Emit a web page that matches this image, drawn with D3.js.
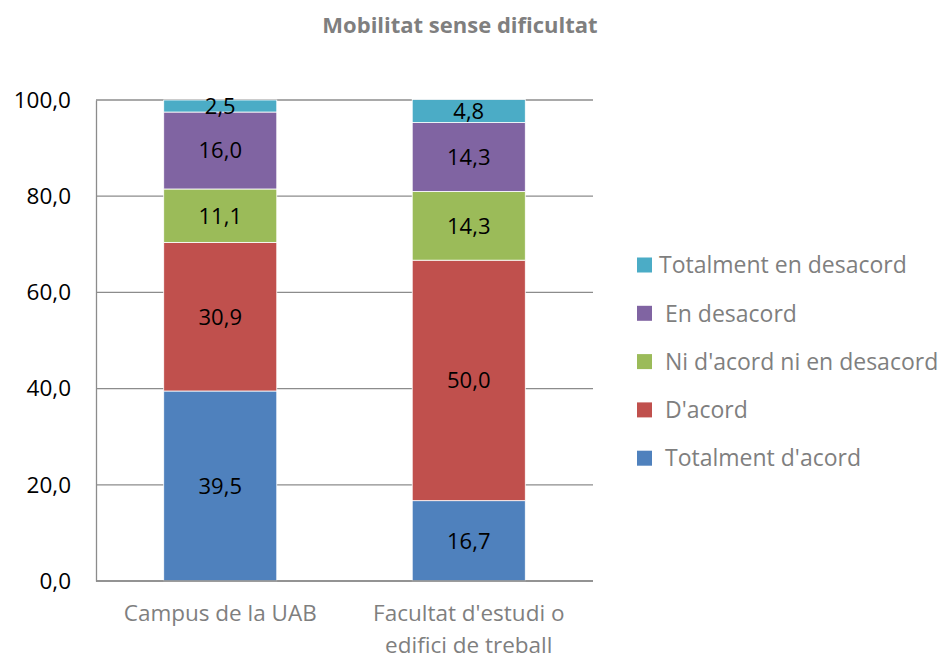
<!DOCTYPE html>
<html>
<head>
<meta charset="utf-8">
<script src="https://cdn.jsdelivr.net/npm/d3@7"></script>
<style>
  body { margin: 0; background: #fff; }
  svg text { font-family: "Open Sans", sans-serif; }
</style>
</head>
<body>
<svg id="chart" width="940" height="659"></svg>
<script>
// categories on x, stacked series bottom to top
const categories = ['Campus de la UAB', "Facultat d'estudi o edifici de treball"]
const categoryLines = [['Campus de la UAB'], ["Facultat d'estudi o", 'edifici de treball']]
const seriesNames = ["Totalment d'acord", "D'acord", "Ni d'acord ni en desacord", 'En desacord', 'Totalment en desacord']
const seriesColors = ['#4f81bd', '#c0504d', '#9bbb59', '#8064a2', '#4bacc6']
const totalmentAcord = [39.5, 16.7]
const acord = [30.9, 50.0]
const niNi = [11.1, 14.3]
const desacord = [16.0, 14.3]
const totalmentDesacord = [2.5, 4.8]
const yTicks = [0, 20, 40, 60, 80, 100]

const seriesValues = [totalmentAcord, acord, niNi, desacord, totalmentDesacord]
const rows = categories.map((c, i) => {
  let r = {cat: c}
  seriesNames.forEach((s, j) => { r[s] = seriesValues[j][i] })
  return r
})
const stacked = d3.stack().keys(seriesNames)(rows)

let svg = d3.select('#chart')
let plot = {x0: 96, x1: 593, y0: 100, y1: 581}
let fmt = v => d3.format('.1f')(v).replace('.', ',')

let x = d3.scaleBand().domain(categories).range([plot.x0, plot.x1]).paddingInner(0.545).paddingOuter(0.2725)
let y = d3.scaleLinear().domain([0, 100]).range([plot.y1, plot.y0])

// gridlines
svg.append('g')
  .selectAll('line')
  .data(yTicks)
  .enter().append('line')
  .attr('x1', plot.x0)
  .attr('x2', plot.x1)
  .attr('y1', d => y(d))
  .attr('y2', d => y(d))
  .attr('stroke', '#8c8c8c')
  .attr('stroke-width', 1.3)

// y axis
let yAxis = svg.append('g')
  .attr('transform', 'translate(' + plot.x0 + ',0)')
  .call(d3.axisLeft(y).tickValues(yTicks).tickFormat(fmt).tickSize(0).tickPadding(25))
yAxis.select('.domain').attr('stroke', '#8c8c8c').attr('stroke-width', 1.3)
yAxis.selectAll('text')
  .style('font-size', '22.5px')
  .attr('fill', '#000')

// bars
let layer = svg.append('g')
  .selectAll('g')
  .data(stacked)
  .enter().append('g')
  .attr('fill', (d, i) => seriesColors[i])

layer.selectAll('rect')
  .data(d => d)
  .enter().append('rect')
  .attr('x', d => x(d.data.cat))
  .attr('y', d => y(d[1]))
  .attr('width', x.bandwidth())
  .attr('height', d => y(d[0]) - y(d[1]))
  .attr('stroke', '#fff')
  .attr('stroke-width', 0.8)

layer.selectAll('text')
  .data(d => d.map(p => ({p: p, key: d.key})))
  .enter().append('text')
  .attr('x', d => x(d.p.data.cat) + x.bandwidth() / 2)
  .attr('y', d => (y(d.p[0]) + y(d.p[1])) / 2)
  .attr('dy', '0.36em')
  .attr('text-anchor', 'middle')
  .style('font-size', '22px')
  .attr('fill', '#000')
  .text(d => fmt(d.p.data[d.key]))

// bottom axis line
svg.append('line')
  .attr('x1', plot.x0)
  .attr('x2', plot.x1)
  .attr('y1', plot.y1)
  .attr('y2', plot.y1)
  .attr('stroke', '#8c8c8c')
  .attr('stroke-width', 1.3)

// category labels
categories.forEach((c, i) => {
  categoryLines[i].forEach((line, k) => {
    svg.append('text')
      .attr('x', x(c) + x.bandwidth() / 2)
      .attr('y', 621 + k * 32)
      .attr('text-anchor', 'middle')
      .style('font-size', '22.5px')
      .attr('fill', '#7f7f7f')
      .text(line)
  })
})

// title
svg.append('text')
  .attr('x', 460)
  .attr('y', 33)
  .attr('text-anchor', 'middle')
  .style('font-size', '22px')
  .style('font-weight', 'bold')
  .attr('fill', '#7f7f7f')
  .text('Mobilitat sense dificultat')

// legend, top entry is last series
let legend = svg.append('g')
  .selectAll('g')
  .data(seriesNames.slice().reverse())
  .enter().append('g')
  .attr('transform', (d, i) => 'translate(637,' + (265 + i * 48.3) + ')')

legend.append('rect')
  .attr('x', 0)
  .attr('y', -7.5)
  .attr('width', 15)
  .attr('height', 15)
  .attr('fill', d => seriesColors[seriesNames.indexOf(d)])

legend.append('text')
  .attr('x', (d, i) => i === 0 ? 22 : 28)
  .attr('y', 0)
  .attr('dy', '0.36em')
  .style('font-size', '23px')
  .attr('fill', '#7f7f7f')
  .text(d => d)
</script>
</body>
</html>
